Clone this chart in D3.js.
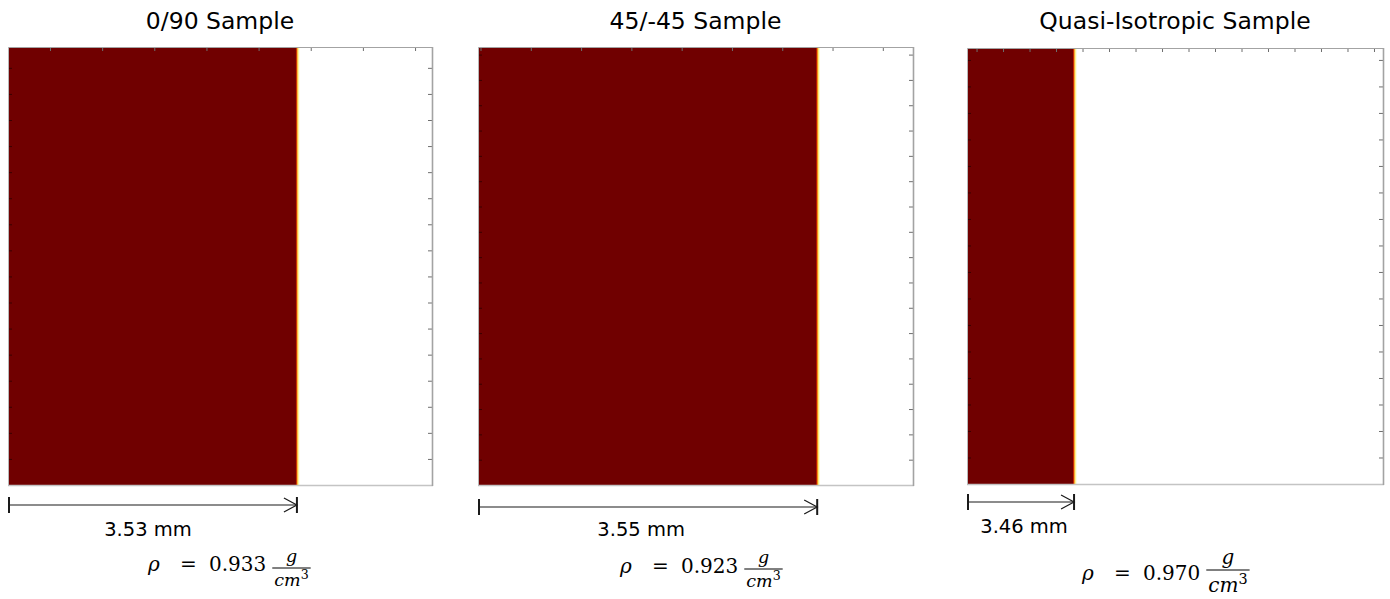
<!DOCTYPE html>
<html>
<head>
<meta charset="utf-8">
<script src="https://cdn.jsdelivr.net/npm/d3@7"></script>
<style>
  html, body { margin: 0; padding: 0; background: #ffffff; }
  svg { display: block; }
</style>
</head>
<body>
<svg id="chart" width="1390" height="599"></svg>
<script>
// ---------------- DATA ----------------
const sampleNames   = ["0/90 Sample", "45/-45 Sample", "Quasi-Isotropic Sample"];
const frontPosition = [11.47, 13.39, 4.68];      // axis units where the dense (dark red) region ends
const thicknessMM   = [3.53, 3.55, 3.46];        // labelled thickness
const densityValues = [0.933, 0.923, 0.970];     // g/cm^3
const xDomains      = [[0.39, 16.65], [-0.1, 17.2], [0.64, 16.34]];
const yDomains      = [[0, 16.8], [0, 17.3], [0, 16.45]];
const xTickValues   = [
  [2, 4, 6, 8, 10, 12, 14, 16],
  [0, 2, 4, 6, 8, 10, 12, 14, 16],
  [1, 2, 3, 4, 5, 6, 7, 8, 9, 10, 11, 12, 13, 14, 15, 16]
];
const yTickValues   = [
  [1, 2, 3, 4, 5, 6, 7, 8, 9, 10, 11, 12, 13, 14, 15, 16],
  [1, 2, 3, 4, 5, 6, 7, 8, 9, 10, 11, 12, 13, 14, 15, 16, 17],
  [1, 2, 3, 4, 5, 6, 7, 8, 9, 10, 11, 12, 13, 14, 15, 16]
];

// ---------------- LAYOUT ----------------
const panelBoxes = [
  { left: 8,   right: 432,  top: 47, bottom: 485 },
  { left: 478, right: 913,  top: 47, bottom: 485 },
  { left: 967, right: 1383, top: 48, bottom: 484 }
];
const titleBaseline = 29;
const arrowY       = [505, 507, 502];
const labelBase    = [536, 536, 533];
const labelShift   = [-5, -7, 3];
const formulaLeft  = [148, 620, 1082];
const formulaBase  = [571, 573, 580];
const fracBarY     = [568, 569, 570];
const fracFont     = [17.5, 17.5, 20];
const fracDenOff   = [18, 18, 22];

const darkRed = "#700000";
const frameColor = "#a3a3a3";
const tickColor = "#6e6e6e";
const sansFont = "'DejaVu Sans', 'Open Sans', sans-serif";

const svg = d3.select("#chart");

sampleNames.forEach((name, i) => {
  const box = panelBoxes[i];
  const x = d3.scaleLinear().domain(xDomains[i]).range([box.left, box.right]);
  const y = d3.scaleLinear().domain(yDomains[i]).range([box.bottom, box.top]);
  const g = svg.append("g");

  // title
  g.append("text")
    .attr("x", (box.left + box.right) / 2)
    .attr("y", titleBaseline)
    .attr("text-anchor", "middle")
    .attr("font-family", sansFont)
    .attr("font-size", 23.5)
    .attr("fill", "#000")
    .text(name);

  // dense region
  const x0 = x(xDomains[i][0]);
  const xf = x(frontPosition[i]);
  g.append("rect")
    .attr("x", x0).attr("y", y(yDomains[i][1]))
    .attr("width", xf - x0)
    .attr("height", y(yDomains[i][0]) - y(yDomains[i][1]))
    .attr("fill", darkRed);

  // transition front (hot colormap edge)
  const edgeColors = ["#c81e00", "#f07800", "#ffd21e", "#fff7a0"];
  edgeColors.forEach((c, k) => {
    g.append("rect")
      .attr("x", xf - 1 + k * 0.8).attr("y", y(yDomains[i][1]))
      .attr("width", 0.9)
      .attr("height", y(yDomains[i][0]) - y(yDomains[i][1]))
      .attr("fill", c);
  });

  // ticks (inward) via d3 axes
  const styleAxis = sel => {
    sel.select(".domain").remove();
    sel.selectAll("text").remove();
    sel.selectAll("line").attr("stroke", tickColor).attr("stroke-width", 1);
  };
  g.append("g").attr("transform", `translate(0,${box.top})`)
    .call(d3.axisTop(x).tickValues(xTickValues[i]).tickSize(-4)).call(styleAxis);
  g.append("g").attr("transform", `translate(${box.right},0)`)
    .call(d3.axisRight(y).tickValues(yTickValues[i]).tickSize(-4)).call(styleAxis);
  g.append("g").attr("transform", `translate(${box.left},0)`)
    .call(d3.axisLeft(y).tickValues(yTickValues[i]).tickSize(-4)).call(styleAxis)
    .selectAll("line").attr("stroke", "#3a0000");

  // frame
  g.append("line").attr("x1", box.left).attr("x2", box.right).attr("y1", box.top + 0.5).attr("y2", box.top + 0.5)
    .attr("stroke", frameColor).attr("stroke-width", 1);
  g.append("line").attr("x1", box.left).attr("x2", box.right + 1).attr("y1", box.bottom + 0.5).attr("y2", box.bottom + 0.5)
    .attr("stroke", "#c4c4c4").attr("stroke-width", 1.5);
  g.append("line").attr("x1", box.right + 0.5).attr("x2", box.right + 0.5).attr("y1", box.top).attr("y2", box.bottom + 1)
    .attr("stroke", frameColor).attr("stroke-width", 1.6);
  g.append("line").attr("x1", box.left + 0.5).attr("x2", box.left + 0.5).attr("y1", box.top).attr("y2", box.bottom + 1)
    .attr("stroke", "#b8b8b8").attr("stroke-width", 1);

  // dimension arrow from panel edge to front
  const ay = arrowY[i];
  const ax1 = x(xDomains[i][0]) + 1;
  const ax2 = x(frontPosition[i]);
  const arrowColor = "#1a1a1a";
  g.append("line").attr("x1", ax1).attr("x2", ax2).attr("y1", ay).attr("y2", ay)
    .attr("stroke", arrowColor).attr("stroke-width", 1.2);
  g.append("line").attr("x1", ax1).attr("x2", ax1).attr("y1", ay - 8).attr("y2", ay + 8)
    .attr("stroke", arrowColor).attr("stroke-width", 2);
  g.append("line").attr("x1", ax2).attr("x2", ax2).attr("y1", ay - 8).attr("y2", ay + 8)
    .attr("stroke", arrowColor).attr("stroke-width", 2);
  g.append("path")
    .attr("d", `M${ax2 - 13},${ay - 7} L${ax2},${ay} L${ax2 - 13},${ay + 7}`)
    .attr("fill", "none").attr("stroke", arrowColor).attr("stroke-width", 1.2);

  // thickness label
  g.append("text")
    .attr("x", (ax1 + ax2) / 2 + labelShift[i])
    .attr("y", labelBase[i])
    .attr("text-anchor", "middle")
    .attr("font-family", sansFont)
    .attr("font-size", 19.5)
    .attr("fill", "#000")
    .text(d3.format(".2f")(thicknessMM[i]) + " mm");

  // density formula
  const fx = formulaLeft[i];
  const fb = formulaBase[i];
  const serif = "'DejaVu Serif', serif";
  g.append("text").attr("x", fx).attr("y", fb)
    .attr("font-family", serif).attr("font-style", "italic").attr("font-size", 20).text("ρ");
  g.append("text").attr("x", fx + 32).attr("y", fb)
    .attr("font-family", serif).attr("font-size", 20).text("=");
  const num = g.append("text").attr("x", fx + 61).attr("y", fb)
    .attr("font-family", serif).attr("font-size", 20).text(d3.format(".3f")(densityValues[i]));
  const numEnd = fx + 61 + num.node().getComputedTextLength();

  const den = g.append("text")
    .attr("y", fracBarY[i] + fracDenOff[i])
    .attr("font-family", serif).attr("font-style", "italic").attr("font-size", fracFont[i]);
  den.append("tspan").text("cm");
  den.append("tspan").attr("font-style", "normal").attr("font-size", fracFont[i] * 0.72).attr("dy", -fracFont[i] * 0.42).text("3");
  const denW = den.node().getComputedTextLength();
  const fracLeft = numEnd + 6;
  den.attr("x", fracLeft + 2);
  g.append("line")
    .attr("x1", fracLeft).attr("x2", fracLeft + denW + 4)
    .attr("y1", fracBarY[i]).attr("y2", fracBarY[i])
    .attr("stroke", "#000").attr("stroke-width", 1);
  g.append("text")
    .attr("x", fracLeft + (denW + 4) / 2)
    .attr("y", fracBarY[i] - 6)
    .attr("text-anchor", "middle")
    .attr("font-family", serif).attr("font-style", "italic").attr("font-size", fracFont[i]).text("g");
});
</script>
</body>
</html>
